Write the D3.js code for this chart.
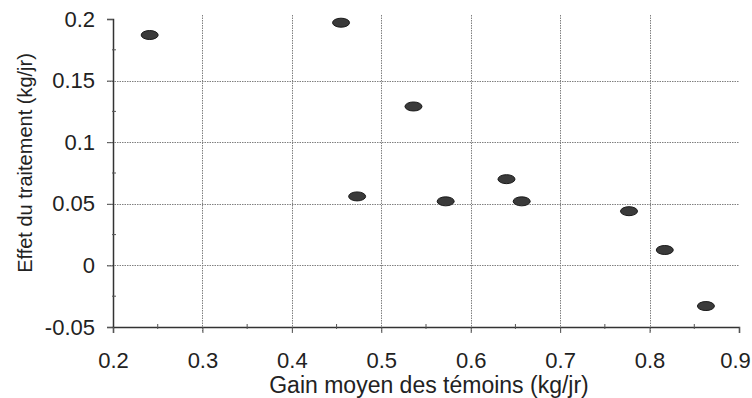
<!DOCTYPE html>
<html>
<head>
<meta charset="utf-8">
<script src="https://cdn.jsdelivr.net/npm/d3@7"></script>
<style>
  html, body { margin: 0; padding: 0; background: #fff; }
  svg { display: block; }
  text { font-family: "Liberation Sans", Arial, sans-serif; fill: #222; }
</style>
</head>
<body>
<div id="viz"></div>
<script>
const WIDTH = 752;
const HEIGHT = 398;

// control-group mean gain (kg/jr) and treatment effect (kg/jr)
const gainTemoins = [0.241, 0.455, 0.536, 0.473, 0.640, 0.572, 0.657, 0.777, 0.817, 0.863];
const effetTraitement = [0.187, 0.197, 0.129, 0.056, 0.070, 0.052, 0.052, 0.044, 0.0125, -0.033];

const xTicks = [0.2, 0.3, 0.4, 0.5, 0.6, 0.7, 0.8, 0.9];
const yTicks = [-0.05, 0, 0.05, 0.1, 0.15, 0.2];
const xMinor = [0.25, 0.35, 0.45, 0.55, 0.65, 0.75, 0.85];
const yMinor = [-0.025, 0.025, 0.075, 0.125, 0.175];

const M = { left: 113, right: 13, top: 19, bottom: 71 };
const FONT = "'Liberation Sans', Arial, sans-serif";

const svg = d3.select("#viz").append("svg")
  .attr("width", WIDTH)
  .attr("height", HEIGHT);

const x = d3.scaleLinear().domain([0.2, 0.9]).range([M.left, WIDTH - M.right]);
const y = d3.scaleLinear().domain([-0.05, 0.2]).range([HEIGHT - M.bottom, M.top]);

// plain hyphen for negatives, like the original
const fmt = d => String(+d.toFixed(2));

// gridlines
const grid = svg.append("g").attr("stroke", "#808080").attr("stroke-width", 1)
  .attr("stroke-dasharray", "1.5,1");
grid.selectAll(".vg").data(xTicks.slice(1, -1)).join("line")
  .attr("x1", d => Math.round(x(d)) + 0.5).attr("x2", d => Math.round(x(d)) + 0.5)
  .attr("y1", M.top - 4).attr("y2", y(-0.05) + 5);
grid.selectAll(".hg").data(yTicks.slice(1, -1)).join("line")
  .attr("x1", x(0.2) - 6).attr("x2", x(0.9))
  .attr("y1", d => Math.round(y(d)) + 0.5).attr("y2", d => Math.round(y(d)) + 0.5);

// axes
const yAxis = svg.append("g")
  .attr("transform", `translate(${x(0.2)},0)`)
  .call(d3.axisLeft(y).tickValues(yTicks).tickFormat(fmt).tickSize(6).tickPadding(12));
yAxis.select(".domain").attr("stroke", "#333").attr("stroke-width", 1.5);
yAxis.selectAll(".tick line").attr("stroke", "#555");
yAxis.selectAll("text").style("font-size", "22px").style("font-family", FONT).attr("fill", "#222");

const xAxis = svg.append("g")
  .attr("transform", `translate(0,${y(-0.05)})`)
  .call(d3.axisBottom(x).tickValues(xTicks).tickFormat(fmt).tickSize(6).tickPadding(19));
xAxis.select(".domain").attr("stroke", "#333").attr("stroke-width", 1.5);
xAxis.selectAll(".tick line").attr("stroke", "#555");
xAxis.selectAll("text").style("font-size", "22px").style("font-family", FONT).attr("fill", "#222");
// the last label sits against the right edge
xAxis.selectAll(".tick").filter(d => d === 0.9).select("text").attr("dx", -4);

// minor ticks
svg.append("g").attr("stroke", "#555")
  .selectAll("line").data(xMinor).join("line")
  .attr("x1", d => x(d)).attr("x2", d => x(d))
  .attr("y1", y(-0.05) - 3).attr("y2", y(-0.05) + 2);
svg.append("g").attr("stroke", "#555")
  .selectAll("line").data(yMinor).join("line")
  .attr("x1", x(0.2) - 1).attr("x2", x(0.2) + 3)
  .attr("y1", d => y(d)).attr("y2", d => y(d));

// points
svg.append("g").selectAll("ellipse").data(gainTemoins).join("ellipse")
  .attr("cx", d => x(d))
  .attr("cy", (d, i) => y(effetTraitement[i]))
  .attr("rx", 8.5).attr("ry", 4.5)
  .attr("fill", "#3a3a3a").attr("stroke", "#1a1a1a").attr("stroke-width", 1);

// axis titles
svg.append("text")
  .attr("x", 429).attr("y", 393)
  .attr("text-anchor", "middle").style("font-size", "23px")
  .text("Gain moyen des témoins (kg/jr)");

svg.append("text")
  .attr("transform", "translate(32,163) rotate(-90)")
  .attr("text-anchor", "middle").style("font-size", "20px")
  .text("Effet du traitement (kg/jr)");
</script>
</body>
</html>
